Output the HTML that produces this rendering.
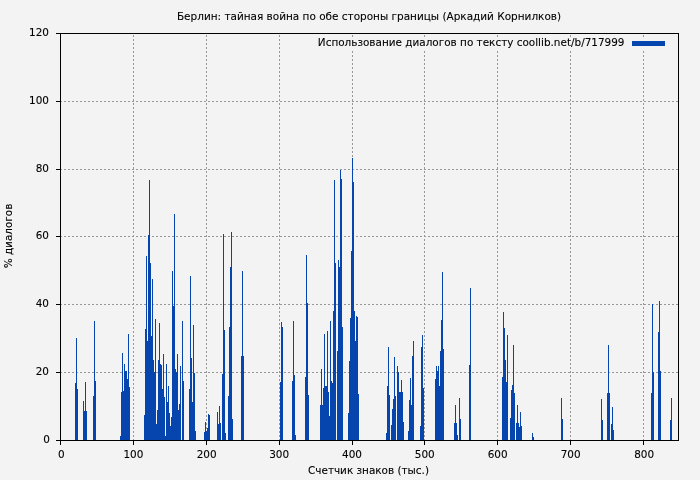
<!DOCTYPE html>
<html lang="ru"><head><meta charset="utf-8"><title>Берлин: тайная война по обе стороны границы</title>
<style>
html,body{margin:0;padding:0;background:#f3f3f3;}
body{width:700px;height:480px;overflow:hidden;}
svg{display:block;}
text{font-family:"DejaVu Sans","Liberation Sans",sans-serif;font-size:10.45px;fill:#000;stroke:#000;stroke-width:0.1px;}
</style></head><body>
<svg width="700" height="480" viewBox="0 0 700 480">
<rect width="700" height="480" fill="#f3f3f3"/>

<g stroke="#989898" stroke-width="1" stroke-dasharray="2 2" stroke-dashoffset="0.5" fill="none">
<path d="M133.5 440.5V33.5"/>
<path d="M206.5 440.5V33.5"/>
<path d="M279.5 440.5V33.5"/>
<path d="M352.5 440.5V33.5"/>
<path d="M424.5 440.5V33.5"/>
<path d="M497.5 440.5V33.5"/>
<path d="M570.5 440.5V33.5"/>
<path d="M643.5 440.5V33.5"/>
<path d="M60.5 372.5H678.5"/>
<path d="M60.5 304.5H678.5"/>
<path d="M60.5 236.5H678.5"/>
<path d="M60.5 169.5H678.5"/>
<path d="M60.5 101.5H678.5"/>
</g>
<rect x="314" y="38" width="358" height="12.5" fill="#f3f3f3"/>
<g fill="#0645ad" shape-rendering="crispEdges">
<path d="M75 383h1V440h-1zM76 338h1V440h-1zM77 389h1V440h-1zM83 401h1V440h-1zM84 411h1V440h-1zM85 382h1V440h-1zM86 411h1V440h-1zM93 396h1V440h-1zM94 321h1V440h-1zM95 381h1V440h-1zM120 436h1V440h-1zM121 392h1V440h-1zM122 353h1V440h-1zM123 391h1V440h-1zM124 364h1V440h-1zM125 371h1V440h-1zM126 371h1V440h-1zM127 379h1V440h-1zM128 334h1V440h-1zM129 387h1V440h-1zM144 415h1V440h-1zM145 329h1V440h-1zM146 256h1V440h-1zM147 341h1V440h-1zM148 235h1V440h-1zM149 180h1V440h-1zM150 263h1V440h-1zM151 336h1V440h-1zM152 279h1V440h-1zM153 360h1V440h-1zM154 372h1V440h-1zM155 319h1V440h-1zM156 424h1V440h-1zM157 410h1V440h-1zM158 360h1V440h-1zM159 323h1V440h-1zM160 364h1V440h-1zM161 365h1V440h-1zM162 389h1V440h-1zM163 354h1V440h-1zM164 397h1V440h-1zM165 436h1V440h-1zM166 364h1V440h-1zM167 402h1V440h-1zM168 386h1V440h-1zM169 413h1V440h-1zM170 426h1V440h-1zM171 417h1V440h-1zM172 271h1V440h-1zM173 306h1V440h-1zM174 214h1V440h-1zM175 369h1V440h-1zM176 372h1V440h-1zM177 354h1V440h-1zM178 410h1V440h-1zM179 404h1V440h-1zM180 366h1V440h-1zM182 321h1V440h-1zM183 381h1V440h-1zM189 389h1V440h-1zM190 276h1V440h-1zM191 358h1V440h-1zM192 402h1V440h-1zM193 325h1V440h-1zM194 373h1V440h-1zM195 431h1V440h-1zM204 432h1V440h-1zM205 422h1V440h-1zM206 431h1V440h-1zM207 428h1V440h-1zM208 414h1V440h-1zM209 415h1V440h-1zM217 412h1V440h-1zM218 424h1V440h-1zM219 406h1V440h-1zM220 423h1V440h-1zM222 374h1V440h-1zM223 234h1V440h-1zM224 330h1V440h-1zM225 433h1V440h-1zM228 396h1V440h-1zM229 327h1V440h-1zM230 267h1V440h-1zM231 232h1V440h-1zM232 419h1V440h-1zM241 356h1V440h-1zM242 271h1V440h-1zM243 356h1V440h-1zM280 382h1V440h-1zM281 322h1V440h-1zM282 327h1V440h-1zM292 381h1V440h-1zM293 321h1V440h-1zM294 375h1V440h-1zM295 435h1V440h-1zM305 377h1V440h-1zM306 255h1V440h-1zM307 303h1V440h-1zM308 395h1V440h-1zM320 405h1V440h-1zM321 369h1V440h-1zM322 405h1V440h-1zM323 388h1V440h-1zM324 334h1V440h-1zM325 386h1V440h-1zM326 386h1V440h-1zM327 331h1V440h-1zM328 392h1V440h-1zM329 416h1V440h-1zM330 321h1V440h-1zM331 381h1V440h-1zM332 383h1V440h-1zM333 311h1V440h-1zM334 180h1V440h-1zM335 263h1V440h-1zM337 351h1V440h-1zM338 260h1V440h-1zM339 267h1V440h-1zM340 170h1V440h-1zM341 179h1V440h-1zM342 327h1V440h-1zM348 413h1V440h-1zM349 361h1V440h-1zM350 318h1V440h-1zM351 251h1V440h-1zM352 158h1V440h-1zM353 182h1V440h-1zM354 311h1V440h-1zM355 341h1V440h-1zM356 316h1V440h-1zM357 317h1V440h-1zM358 394h1V440h-1zM386 433h1V440h-1zM387 386h1V440h-1zM388 347h1V440h-1zM389 395h1V440h-1zM391 425h1V440h-1zM392 409h1V440h-1zM393 399h1V440h-1zM394 357h1V440h-1zM395 396h1V440h-1zM397 366h1V440h-1zM398 372h1V440h-1zM399 392h1V440h-1zM400 392h1V440h-1zM401 380h1V440h-1zM402 392h1V440h-1zM403 422h1V440h-1zM408 431h1V440h-1zM409 400h1V440h-1zM410 378h1V440h-1zM411 405h1V440h-1zM412 356h1V440h-1zM413 341h1V440h-1zM420 426h1V440h-1zM421 347h1V440h-1zM422 335h1V440h-1zM423 388h1V440h-1zM435 379h1V440h-1zM436 366h1V440h-1zM437 371h1V440h-1zM438 366h1V440h-1zM439 386h1V440h-1zM440 351h1V440h-1zM441 320h1V440h-1zM442 272h1V440h-1zM443 349h1V440h-1zM454 423h1V440h-1zM455 405h1V440h-1zM456 423h1V440h-1zM457 435h1V440h-1zM459 398h1V440h-1zM460 419h1V440h-1zM469 365h1V440h-1zM470 288h1V440h-1zM502 377h1V440h-1zM503 312h1V440h-1zM504 328h1V440h-1zM505 360h1V440h-1zM506 382h1V440h-1zM507 335h1V440h-1zM510 418h1V440h-1zM511 390h1V440h-1zM512 385h1V440h-1zM513 345h1V440h-1zM514 393h1V440h-1zM516 423h1V440h-1zM517 405h1V440h-1zM518 423h1V440h-1zM519 427h1V440h-1zM520 412h1V440h-1zM521 426h1V440h-1zM532 433h1V440h-1zM533 437h1V440h-1zM561 398h1V440h-1zM562 419h1V440h-1zM601 399h1V440h-1zM602 420h1V440h-1zM607 393h1V440h-1zM608 345h1V440h-1zM609 393h1V440h-1zM611 424h1V440h-1zM612 407h1V440h-1zM613 430h1V440h-1zM651 393h1V440h-1zM652 304h1V440h-1zM653 372h1V440h-1zM658 332h1V440h-1zM659 301h1V440h-1zM660 371h1V440h-1zM670 420h1V440h-1zM671 398h1V440h-1z"/>
<rect x="632" y="41" width="33" height="5"/>
</g>
<g stroke="#000" stroke-width="1" fill="none" shape-rendering="crispEdges">
<rect x="60.5" y="33.5" width="618.0" height="407.0"/>
<path d="M60.5 440.5v4.5"/>
<path d="M133.5 440.5v4.5"/>
<path d="M206.5 440.5v4.5"/>
<path d="M279.5 440.5v4.5"/>
<path d="M352.5 440.5v4.5"/>
<path d="M424.5 440.5v4.5"/>
<path d="M497.5 440.5v4.5"/>
<path d="M570.5 440.5v4.5"/>
<path d="M643.5 440.5v4.5"/>
<path d="M60.5 440.5h-4.5"/>
<path d="M60.5 372.5h-4.5"/>
<path d="M60.5 304.5h-4.5"/>
<path d="M60.5 236.5h-4.5"/>
<path d="M60.5 169.5h-4.5"/>
<path d="M60.5 101.5h-4.5"/>
<path d="M60.5 33.5h-4.5"/>
</g>
<text x="61.4" y="458" text-anchor="middle">0</text>
<text x="133.4" y="458" text-anchor="middle">100</text>
<text x="206.7" y="458" text-anchor="middle">200</text>
<text x="279.1" y="458" text-anchor="middle">300</text>
<text x="352.0" y="458" text-anchor="middle">400</text>
<text x="424.8" y="458" text-anchor="middle">500</text>
<text x="497.7" y="458" text-anchor="middle">600</text>
<text x="570.6" y="458" text-anchor="middle">700</text>
<text x="644.1" y="458" text-anchor="middle">800</text>
<text x="50" y="443" text-anchor="end">0</text>
<text x="49" y="375" text-anchor="end">20</text>
<text x="49" y="307" text-anchor="end">40</text>
<text x="49" y="239" text-anchor="end">60</text>
<text x="49" y="172" text-anchor="end">80</text>
<text x="49" y="104" text-anchor="end">100</text>
<text x="49" y="36" text-anchor="end">120</text>
<text x="369" y="20" text-anchor="middle" style="font-size:10.478px">Берлин: тайная война по обе стороны границы (Аркадий Корнилков)</text>
<text x="624.5" y="46" text-anchor="end">Использование диалогов по тексту coollib.net/b/717999</text>
<text x="368.5" y="474" text-anchor="middle">Счетчик знаков (тыс.)</text>
<text transform="translate(12 236) rotate(-90)" text-anchor="middle">% диалогов</text>
</svg></body></html>
